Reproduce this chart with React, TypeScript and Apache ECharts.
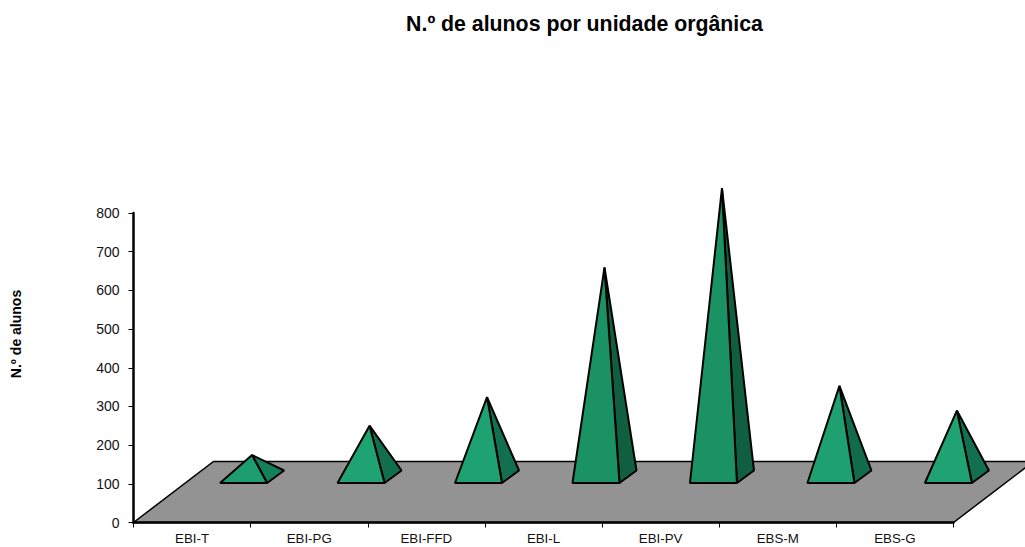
import React, { useEffect, useRef } from "react";
import * as echarts from "echarts";

const categories = ["EBI-T", "EBI-PG", "EBI-FFD", "EBI-L", "EBI-PV", "EBS-M", "EBS-G"];
const students = [56, 132, 206, 541, 746, 235, 171];
const faceColours = ["#1D9E70", "#1FA372", "#1FA272", "#1A9263", "#1A9263", "#1FA070", "#1FA372"];
const sideColours = ["#14805A", "#126F4E", "#127050", "#0F5F40", "#0F5F40", "#126C4C", "#127050"];
const yTicks = [0, 100, 200, 300, 400, 500, 600, 700, 800];

const FONT = "'Liberation Sans', Arial, sans-serif";
const STROKE = { stroke: "#000", lineWidth: 2, lineJoin: "bevel" as const };

export default function App() {
  const ref = useRef<HTMLDivElement>(null);
  useEffect(() => {
    const chart = echarts.init(ref.current!, undefined, { renderer: "svg" });
    chart.setOption({
      animation: false,
      backgroundColor: "#fff",
      title: {
        text: "N.º de alunos por unidade orgânica",
        left: 579.5,
        top: 8.5,
        textAlign: "center",
        textStyle: { fontFamily: FONT, fontSize: 21.3, fontWeight: "bold", color: "#000" },
      },
      graphic: [
        {
          type: "text",
          x: 16,
          y: 334,
          rotation: Math.PI / 2,
          style: {
            text: "N.º de alunos",
            fontFamily: FONT,
            fontSize: 14,
            fontWeight: "bold",
            fill: "#000",
            textAlign: "center",
            textVerticalAlign: "middle",
          },
        },
      ],
      grid: { left: 133.5, top: 213, width: 820, height: 309.5, containLabel: false },
      xAxis: {
        type: "category",
        data: categories,
        z: 5,
        boundaryGap: true,
        axisLine: { show: true, lineStyle: { color: "#000", width: 2.5 } },
        axisTick: { show: true, alignWithLabel: false, length: 5, lineStyle: { color: "#000", width: 1 } },
        axisLabel: { fontFamily: FONT, fontSize: 13.3, color: "#111", margin: 9, interval: 0 },
        splitLine: { show: false },
      },
      yAxis: {
        type: "value",
        min: 0,
        max: yTicks[yTicks.length - 1],
        interval: 100,
        z: 5,
        axisLine: { show: true, lineStyle: { color: "#000", width: 2.5 } },
        axisTick: { show: true, length: 5, lineStyle: { color: "#000", width: 1 } },
        axisLabel: { fontFamily: FONT, fontSize: 14, color: "#111", margin: 14 },
        splitLine: { show: false },
      },
      series: [
        {
          type: "custom",
          z: 2,
          silent: true,
          data: [[0, 0]],
          encode: { x: 0, y: 1 },
          renderItem: (_p: any, api: any) => {
            const band = api.size([1, 0])[0];
            const a = api.coord([0, 0]);
            const b = api.coord([categories.length - 1, 0]);
            const x0 = a[0] - band / 2;
            const x1 = b[0] + band / 2;
            const y0 = a[1];
            return {
              type: "polygon",
              shape: {
                points: [
                  [x0, y0],
                  [x1, y0],
                  [x1 + 80, y0 - 61],
                  [x0 + 80, y0 - 61],
                ],
              },
              style: { fill: "#939393", stroke: "#000", lineWidth: 1.5 },
            };
          },
        },
        {
          type: "custom",
          z: 3,
          silent: true,
          data: students.map((v, i) => [i, v]),
          encode: { x: 0, y: 1 },
          renderItem: (p: any, api: any) => {
            const i = p.dataIndex;
            const top = api.coord([api.value(0), api.value(1)]);
            const c = top[0] + i * 0.33;
            const base = api.coord([api.value(0), 0])[1] - 39.5;
            const apex = [c + 60, top[1] - 45.75];
            const fl = [c + 28, base];
            const fr = [c + 75, base];
            const br = [c + 92, base - 12.5];
            return {
              type: "group",
              children: [
                {
                  type: "polygon",
                  shape: { points: [apex, fr, br] },
                  style: { fill: sideColours[i], ...STROKE },
                },
                {
                  type: "polygon",
                  shape: { points: [apex, fl, fr] },
                  style: { fill: faceColours[i], ...STROKE },
                },
              ],
            };
          },
        },
      ],
    });
    return () => chart.dispose();
  }, []);
  return <div ref={ref} style={{ position: "absolute", left: 0, top: 0, width: 1025, height: 547 }} />;
}
